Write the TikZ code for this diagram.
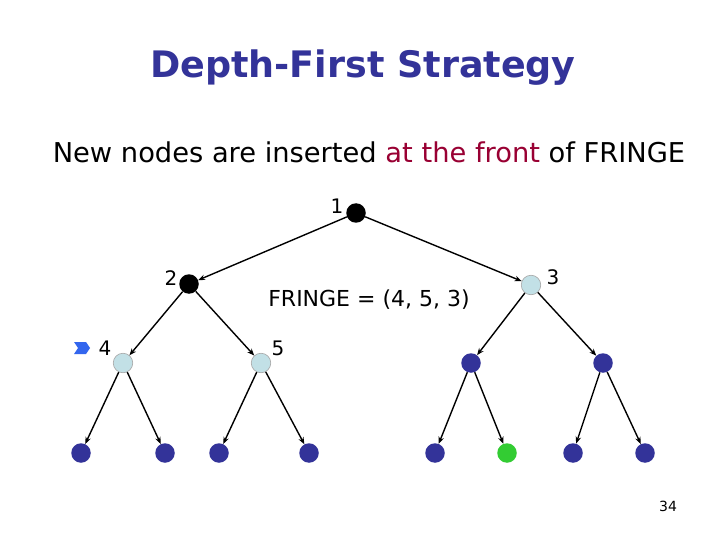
\documentclass[tikz,border=0pt]{standalone}
\usepackage{fontspec}
\setmainfont{DejaVu Sans}
\usetikzlibrary{arrows.meta}
\definecolor{titleblue}{HTML}{333399}
\definecolor{frontred}{HTML}{990033}
\definecolor{fringeblue}{HTML}{C2E0E6}
\definecolor{deepblue}{HTML}{333399}
\definecolor{goalgreen}{HTML}{33CC33}
\definecolor{markblue}{HTML}{3366EE}
\begin{document}
\begin{tikzpicture}[x=1pt,y=-1pt,
  treenode/.style={circle,inner sep=0pt,minimum size=19.5pt},
  expanded/.style={treenode,fill=black},
  fringenode/.style={treenode,fill=fringeblue,draw=gray!70,line width=0.6pt},
  unseen/.style={treenode,fill=deepblue},
  goal/.style={treenode,fill=goalgreen},
  edge/.style={-{Stealth[length=7pt,width=5.5pt]},line width=1.4pt,black},
  lbl/.style={font=\fontsize{20}{24}\selectfont,inner sep=0pt}
]
\useasboundingbox (0,0) rectangle (720,540);
\fill[white] (0,0) rectangle (720,540);
% title and subtitle
\node[font=\bfseries\fontsize{36.5}{42}\selectfont,text=titleblue] (title) at (363,68) {Depth-First Strategy};
\node[font=\fontsize{27.3}{32}\selectfont] (sub) at (369,152) {New nodes are inserted \textcolor{frontred}{at the front} of FRINGE};
% nodes
\node[expanded] (n1) at (356,213) {};
\node[expanded] (n2) at (189,284) {};
\node[fringenode] (n3) at (531,285) {};
\node[fringenode] (n4) at (123,363) {};
\node[fringenode] (n5) at (261,363) {};
\node[unseen] (n6) at (471,363) {};
\node[unseen] (n7) at (603,363) {};
\node[unseen] (l1) at (81,453) {};
\node[unseen] (l2) at (165,453) {};
\node[unseen] (l3) at (219,453) {};
\node[unseen] (l4) at (309,453) {};
\node[unseen] (l5) at (435,453) {};
\node[goal]   (l6) at (507,453) {};
\node[unseen] (l7) at (573,453) {};
\node[unseen] (l8) at (645,453) {};
% labels
\node[lbl] (t1) at (337,206) {1};
\node[lbl] (t2) at (171,278) {2};
\node[lbl] (t3) at (553,277) {3};
\node[lbl] (t4) at (105,348) {4};
\node[lbl] (t5) at (278,348) {5};
\node[font=\fontsize{22}{26}\selectfont] (fr) at (369,300) {FRINGE = (4, 5, 3)};
% marker
\fill[markblue] (74,342) -- (86,342) -- (90,348) -- (86,354) -- (74,354) -- (78,348) -- cycle;
% edges
\draw[edge] (n1) -- (n2);
\draw[edge] (n1) -- (n3);
\draw[edge] (n2) -- (n4);
\draw[edge] (n2) -- (n5);
\draw[edge] (n3) -- (n6);
\draw[edge] (n3) -- (n7);
\draw[edge] (n4) -- (l1);
\draw[edge] (n4) -- (l2);
\draw[edge] (n5) -- (l3);
\draw[edge] (n5) -- (l4);
\draw[edge] (n6) -- (l5);
\draw[edge] (n6) -- (l6);
\draw[edge] (n7) -- (l7);
\draw[edge] (n7) -- (l8);
% page number
\node[font=\fontsize{14}{16}\selectfont] (pg) at (668,506) {34};
\end{tikzpicture}
\end{document}
